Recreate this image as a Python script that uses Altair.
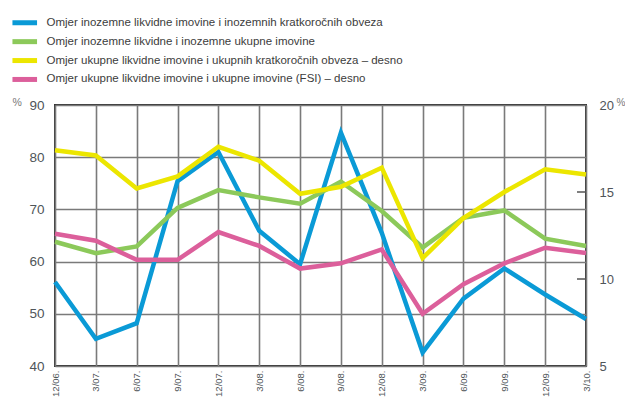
import altair as alt
import pandas as pd

periods = ["12/06.", "3/07.", "6/07.", "9/07.", "12/07.", "3/08.", "6/08.", "9/08.",
           "12/08.", "3/09.", "6/09.", "9/09.", "12/09.", "3/10."]

s_blue_name = "Omjer inozemne likvidne imovine i inozemnih kratkoročnih obveza"
s_green_name = "Omjer inozemne likvidne i inozemne ukupne imovine"
s_yellow_name = "Omjer ukupne likvidne imovine i ukupnih kratkoročnih obveza – desno"
s_pink_name = "Omjer ukupne likvidne imovine i ukupne imovine (FSI) – desno"

# left axis (%)
blue = [56.1, 45.2, 48.2, 75.4, 81.0, 65.9, 59.5, 84.7, 65.5, 42.6, 52.9, 58.7, 53.7, 49.0]
green = [63.8, 61.6, 62.9, 70.3, 73.7, 72.3, 71.1, 75.3, 69.7, 62.7, 68.4, 69.8, 64.4, 63.0]
# right axis (%)
yellow = [17.4, 17.1, 15.2, 15.9, 17.6, 16.8, 14.9, 15.3, 16.4, 11.2, 13.5, 15.0, 16.3, 16.0]
pink = [12.6, 12.2, 11.1, 11.1, 12.7, 11.9, 10.6, 10.9, 11.7, 8.0, 9.7, 10.9, 11.8, 11.5]

series_order = [s_blue_name, s_green_name, s_yellow_name, s_pink_name]
series_colors = ["#0a9ad6", "#8cc95a", "#ece600", "#dc5f9b"]

left_df = pd.DataFrame(
    [{"period": p, "series": s_blue_name, "value": v} for p, v in zip(periods, blue)]
    + [{"period": p, "series": s_green_name, "value": v} for p, v in zip(periods, green)]
)
right_df = pd.DataFrame(
    [{"period": p, "series": s_yellow_name, "value": v} for p, v in zip(periods, yellow)]
    + [{"period": p, "series": s_pink_name, "value": v} for p, v in zip(periods, pink)]
)
right_ticks = pd.DataFrame({"value": [10, 15]})

FONT = "Liberation Sans, Arial, sans-serif"
TXT = "#4f5559"
W, H = 531, 261

x_enc = alt.X(
    "period:N",
    sort=periods,
    scale=alt.Scale(type="point", padding=0),
    axis=alt.Axis(
        title=None, labelAngle=-90, ticks=False, labelPadding=4, domain=False,
        grid=True, gridColor="#7a7a7a", gridWidth=1.6,
        labelFont=FONT, labelFontSize=9.5, labelColor=TXT,
    ),
)

color_enc = alt.Color(
    "series:N",
    sort=series_order,
    scale=alt.Scale(domain=series_order, range=series_colors),
    legend=alt.Legend(
        title=None, orient="none", legendX=-36, legendY=-88, direction="vertical",
        symbolType="M-4.1,0H4.1", symbolSize=36, symbolStrokeWidth=5,
        labelOffset=16, labelFont=FONT, labelFontSize=11.5, labelColor="#3c3c3c",
        rowPadding=-2.1, labelLimit=500,
    ),
)

left = alt.Chart(left_df).mark_line(strokeWidth=4.5, strokeCap="butt").encode(
    x=x_enc,
    y=alt.Y(
        "value:Q",
        scale=alt.Scale(domain=[40, 90], nice=False, zero=False),
        axis=alt.Axis(
            title="%", titleAngle=0, titleX=-43, titleY=2, titleAlign="left",
            titleFont=FONT, titleFontSize=10.5, titleFontWeight="normal", titleColor="#777",
            values=[40, 50, 60, 70, 80, 90], ticks=False, labelPadding=11, domain=False,
            grid=True, gridColor="#7a7a7a", gridWidth=1.6,
            labelFont=FONT, labelFontSize=13.5, labelColor=TXT,
        ),
    ),
    color=color_enc,
)

right_lines = alt.Chart(right_df).mark_line(strokeWidth=4.5, strokeCap="butt").encode(
    x=x_enc,
    y=alt.Y(
        "value:Q",
        scale=alt.Scale(domain=[5, 20], nice=False, zero=False),
        axis=alt.Axis(
            orient="right", title="%", titleAngle=0, titleX=30, titleY=2, titleAlign="left",
            titleFont=FONT, titleFontSize=10, titleFontWeight="normal", titleColor="#777",
            values=[5, 10, 15, 20], ticks=False, labelPadding=13, domain=False, grid=False,
            labelFont=FONT, labelFontSize=13, labelColor=TXT,
        ),
    ),
    color=color_enc,
)

right_tick_marks = alt.Chart(right_ticks).mark_rule(color="#555", strokeWidth=1.5).encode(
    y=alt.Y("value:Q"),
    x=alt.value(W - 9),
    x2=alt.value(W),
)

right = alt.layer(right_lines, right_tick_marks)

chart = (
    alt.layer(left, right)
    .resolve_scale(y="independent")
    .properties(
        width=W,
        height=H,
        autosize=alt.AutoSizeParams(type="none"),
        padding={"left": 47, "top": 97, "right": 39, "bottom": 31},
        background="white",
    )
    .configure_view(stroke="#333333", strokeWidth=2)
)

chart.save("out.html", embed_options={"renderer": "svg", "actions": False})
